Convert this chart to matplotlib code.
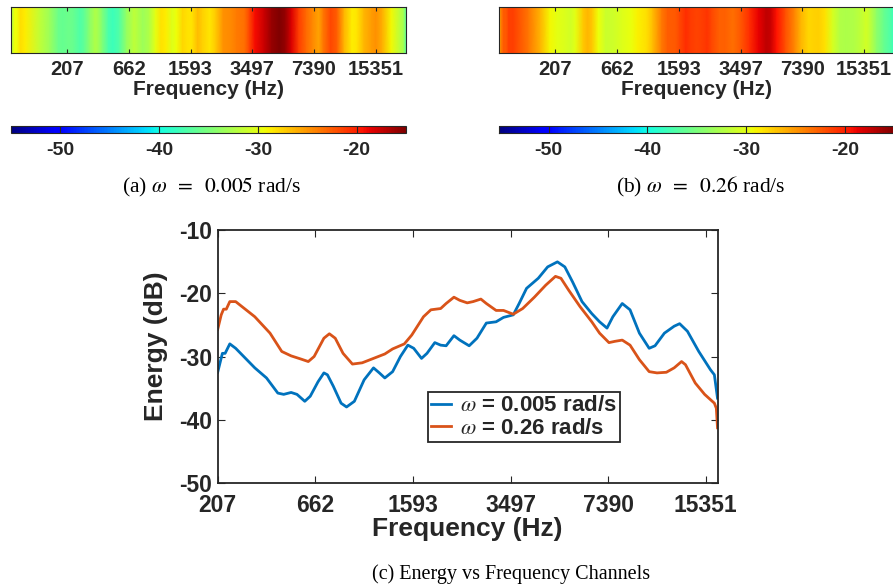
import numpy as np
import matplotlib

matplotlib.use("Agg")
import matplotlib.pyplot as plt

# channel index (1..129) and energy (dB)
ch_slow = [1.0, 2.2, 2.9, 4.1, 5.6, 10.5, 13.5, 16.4, 17.9, 19.8, 21.3, 23.3,
           24.7, 26.7, 28.2, 29.1, 30.6, 32.6, 34.0, 36.0, 38.5, 40.9, 42.4,
           43.8, 45.8, 47.8, 49.7, 51.2, 53.2, 54.6, 56.6, 58.1, 59.5, 61.5,
           63.0, 65.4, 67.4, 69.8, 72.3, 74.2, 76.7, 78.2, 80.1, 83.1, 85.5,
           88.0, 89.9, 91.9, 94.3, 96.8, 98.8, 100.7, 102.2, 104.6, 106.6,
           109.0, 111.5, 113.0, 115.4, 117.9, 119.3, 121.3, 124.2, 127.2,
           128.2, 129.0]
e_slow = [-32.5, -29.5, -29.5, -28.0, -28.7, -31.8, -33.4, -35.8, -36.0,
          -35.7, -36.0, -37.1, -36.3, -34.0, -32.6, -32.9, -34.7, -37.4,
          -38.0, -37.1, -33.7, -31.8, -32.6, -33.4, -32.4, -30.0, -28.2,
          -28.7, -30.3, -29.5, -27.8, -28.2, -28.3, -26.7, -27.4, -28.3,
          -27.1, -24.7, -24.5, -23.8, -23.4, -21.6, -19.2, -17.6, -15.8,
          -15.0, -15.8, -18.2, -21.3, -23.2, -24.5, -25.5, -23.7, -21.6,
          -22.6, -26.3, -28.7, -28.3, -26.3, -25.2, -24.8, -26.0, -29.2,
          -32.1, -32.9, -36.6]

ch_fast = [1.0, 1.9, 2.5, 3.2, 4.1, 5.6, 10.5, 14.4, 17.4, 19.8, 22.3, 24.2,
           25.7, 28.2, 29.6, 31.1, 33.1, 35.5, 38.0, 40.9, 43.8, 45.8, 48.8,
           50.7, 53.7, 55.6, 58.1, 59.5, 61.5, 63.0, 64.9, 66.4, 68.4, 69.8,
           72.3, 74.2, 76.7, 79.1, 82.1, 85.0, 87.5, 88.9, 90.9, 93.8, 96.8,
           98.8, 101.2, 102.7, 104.6, 106.6, 109.0, 111.5, 113.5, 115.9,
           117.9, 119.8, 120.8, 123.3, 125.7, 128.2, 128.7, 129.0]
e_fast = [-25.7, -23.4, -22.5, -22.5, -21.3, -21.3, -23.7, -26.3, -29.2,
          -29.9, -30.4, -30.8, -30.0, -27.1, -26.4, -27.1, -29.5, -31.2,
          -31.0, -30.3, -29.6, -28.8, -28.0, -26.6, -23.7, -22.6, -22.4,
          -21.6, -20.6, -21.1, -21.5, -21.3, -20.9, -21.6, -22.7, -22.7,
          -23.3, -22.4, -20.6, -18.7, -17.3, -17.6, -19.5, -22.1, -24.5,
          -26.3, -27.8, -27.6, -27.4, -28.2, -30.5, -32.4, -32.6, -32.5,
          -31.8, -30.8, -31.3, -34.2, -36.0, -37.4, -38.2, -41.3]

freq_labels = ["207", "662", "1593", "3497", "7390", "15351"]
line_ticks = [1, 26, 51, 76, 101, 126]
strip_ticks = [19.2, 39.2, 59.2, 79.2, 99.2, 119.2]
cbar_ticks = [-50, -40, -30, -20]
energy_ticks = [-50, -40, -30, -20, -10]
series_labels = [r"$\omega$ = 0.005 rad/s", r"$\omega$ = 0.26 rad/s"]

INK = "#262626"
plt.rcParams.update({"font.family": ["Liberation Sans", "DejaVu Sans"],
                     "mathtext.fontset": "stix", "axes.unicode_minus": False,
                     "text.color": INK, "axes.edgecolor": INK,
                     "xtick.color": INK, "ytick.color": INK,
                     "axes.labelcolor": INK, "axes.labelweight": "bold"})

W, H = 893, 588
fig = plt.figure(figsize=(W / 100, H / 100), dpi=100)


def box(x0, y0, x1, y1):
    # pixel box (top-left origin) -> figure fraction rect
    return [x0 / W, 1 - y1 / H, (x1 - x0) / W, (y1 - y0) / H]


def caption(x, y, s, size=14.5):
    fig.text(x / W, 1 - y / H, s, ha="center", va="center", fontsize=size,
             family="Liberation Serif", color="black")


def strip(rect, crect, ch, e):
    ax = fig.add_axes(rect)
    X = np.vstack([ch, ch])
    Y = np.vstack([np.zeros(len(ch)), np.ones(len(ch))])
    C = np.vstack([e, e])
    m = ax.pcolormesh(X, Y, C, cmap="jet", vmin=-55, vmax=-15, shading="gouraud")
    ax.set_xlim(1, 129)
    ax.set_ylim(0, 1)
    ax.set_yticks([])
    ax.set_xticks(strip_ticks, freq_labels, fontsize=14.5, fontweight="bold")
    ax.tick_params(axis="x", direction="in", top=True, length=3, pad=5)
    ax.set_xlabel("Frequency (Hz)", fontsize=15, labelpad=1)
    cax = fig.add_axes(crect)
    cb = fig.colorbar(m, cax=cax, orientation="horizontal", ticks=cbar_ticks)
    cb.ax.tick_params(direction="in", length=3, labelsize=14, pad=6, top=True)
    for t in cb.ax.get_xticklabels():
        t.set_fontweight("bold")
    cb.outline.set_edgecolor(INK)


strip(box(11, 6.7, 406, 52.7), box(11, 126, 406, 133.3), ch_slow, e_slow)
strip(box(499.3, 6.7, 894.3, 52.7), box(499.3, 126, 894.3, 133.3), ch_fast,
      e_fast)
caption(211, 187, r"(a) $\omega\;\;=\;\;0.005$ rad/s", 15.5)
caption(701, 187, r"(b) $\omega\;\;=\;\;0.26$ rad/s", 15.5)

ax = fig.add_axes(box(217.7, 230.3, 717.5, 482.7))
ax.plot(ch_slow, e_slow, color="#0072BD", lw=2, label=series_labels[0])
ax.plot(ch_fast, e_fast, color="#D95319", lw=2, label=series_labels[1])
ax.set_xlim(1, 129)
ax.set_ylim(-50, -10)
ax.set_xticks(line_ticks, freq_labels, fontweight="bold")
ax.set_yticks(energy_ticks, [str(v) for v in energy_ticks], fontweight="bold")
ax.tick_params(direction="in", top=True, right=True, length=5, labelsize=16.5,
               pad=4)
ax.tick_params(axis="x", pad=8)
for s in ax.spines.values():
    s.set_linewidth(1.3)
ax.set_xlabel("Frequency (Hz)", fontsize=19, labelpad=0)
ax.set_ylabel("Energy (dB)", fontsize=19)
ax.yaxis.set_label_coords(-0.10, 0.54)
leg = ax.legend(loc="upper left", bbox_to_anchor=(0.421, 0.359),
                borderaxespad=0, prop={"size": 16, "weight": "bold"},
                handlelength=0.9, handletextpad=0.4, borderpad=0.15,
                labelspacing=0.05, fancybox=False, framealpha=1)
leg.get_frame().set_edgecolor(INK)
leg.get_frame().set_linewidth(1.3)

caption(511, 574, "(c) Energy vs Frequency Channels")

fig.savefig("out.png", dpi=100)
